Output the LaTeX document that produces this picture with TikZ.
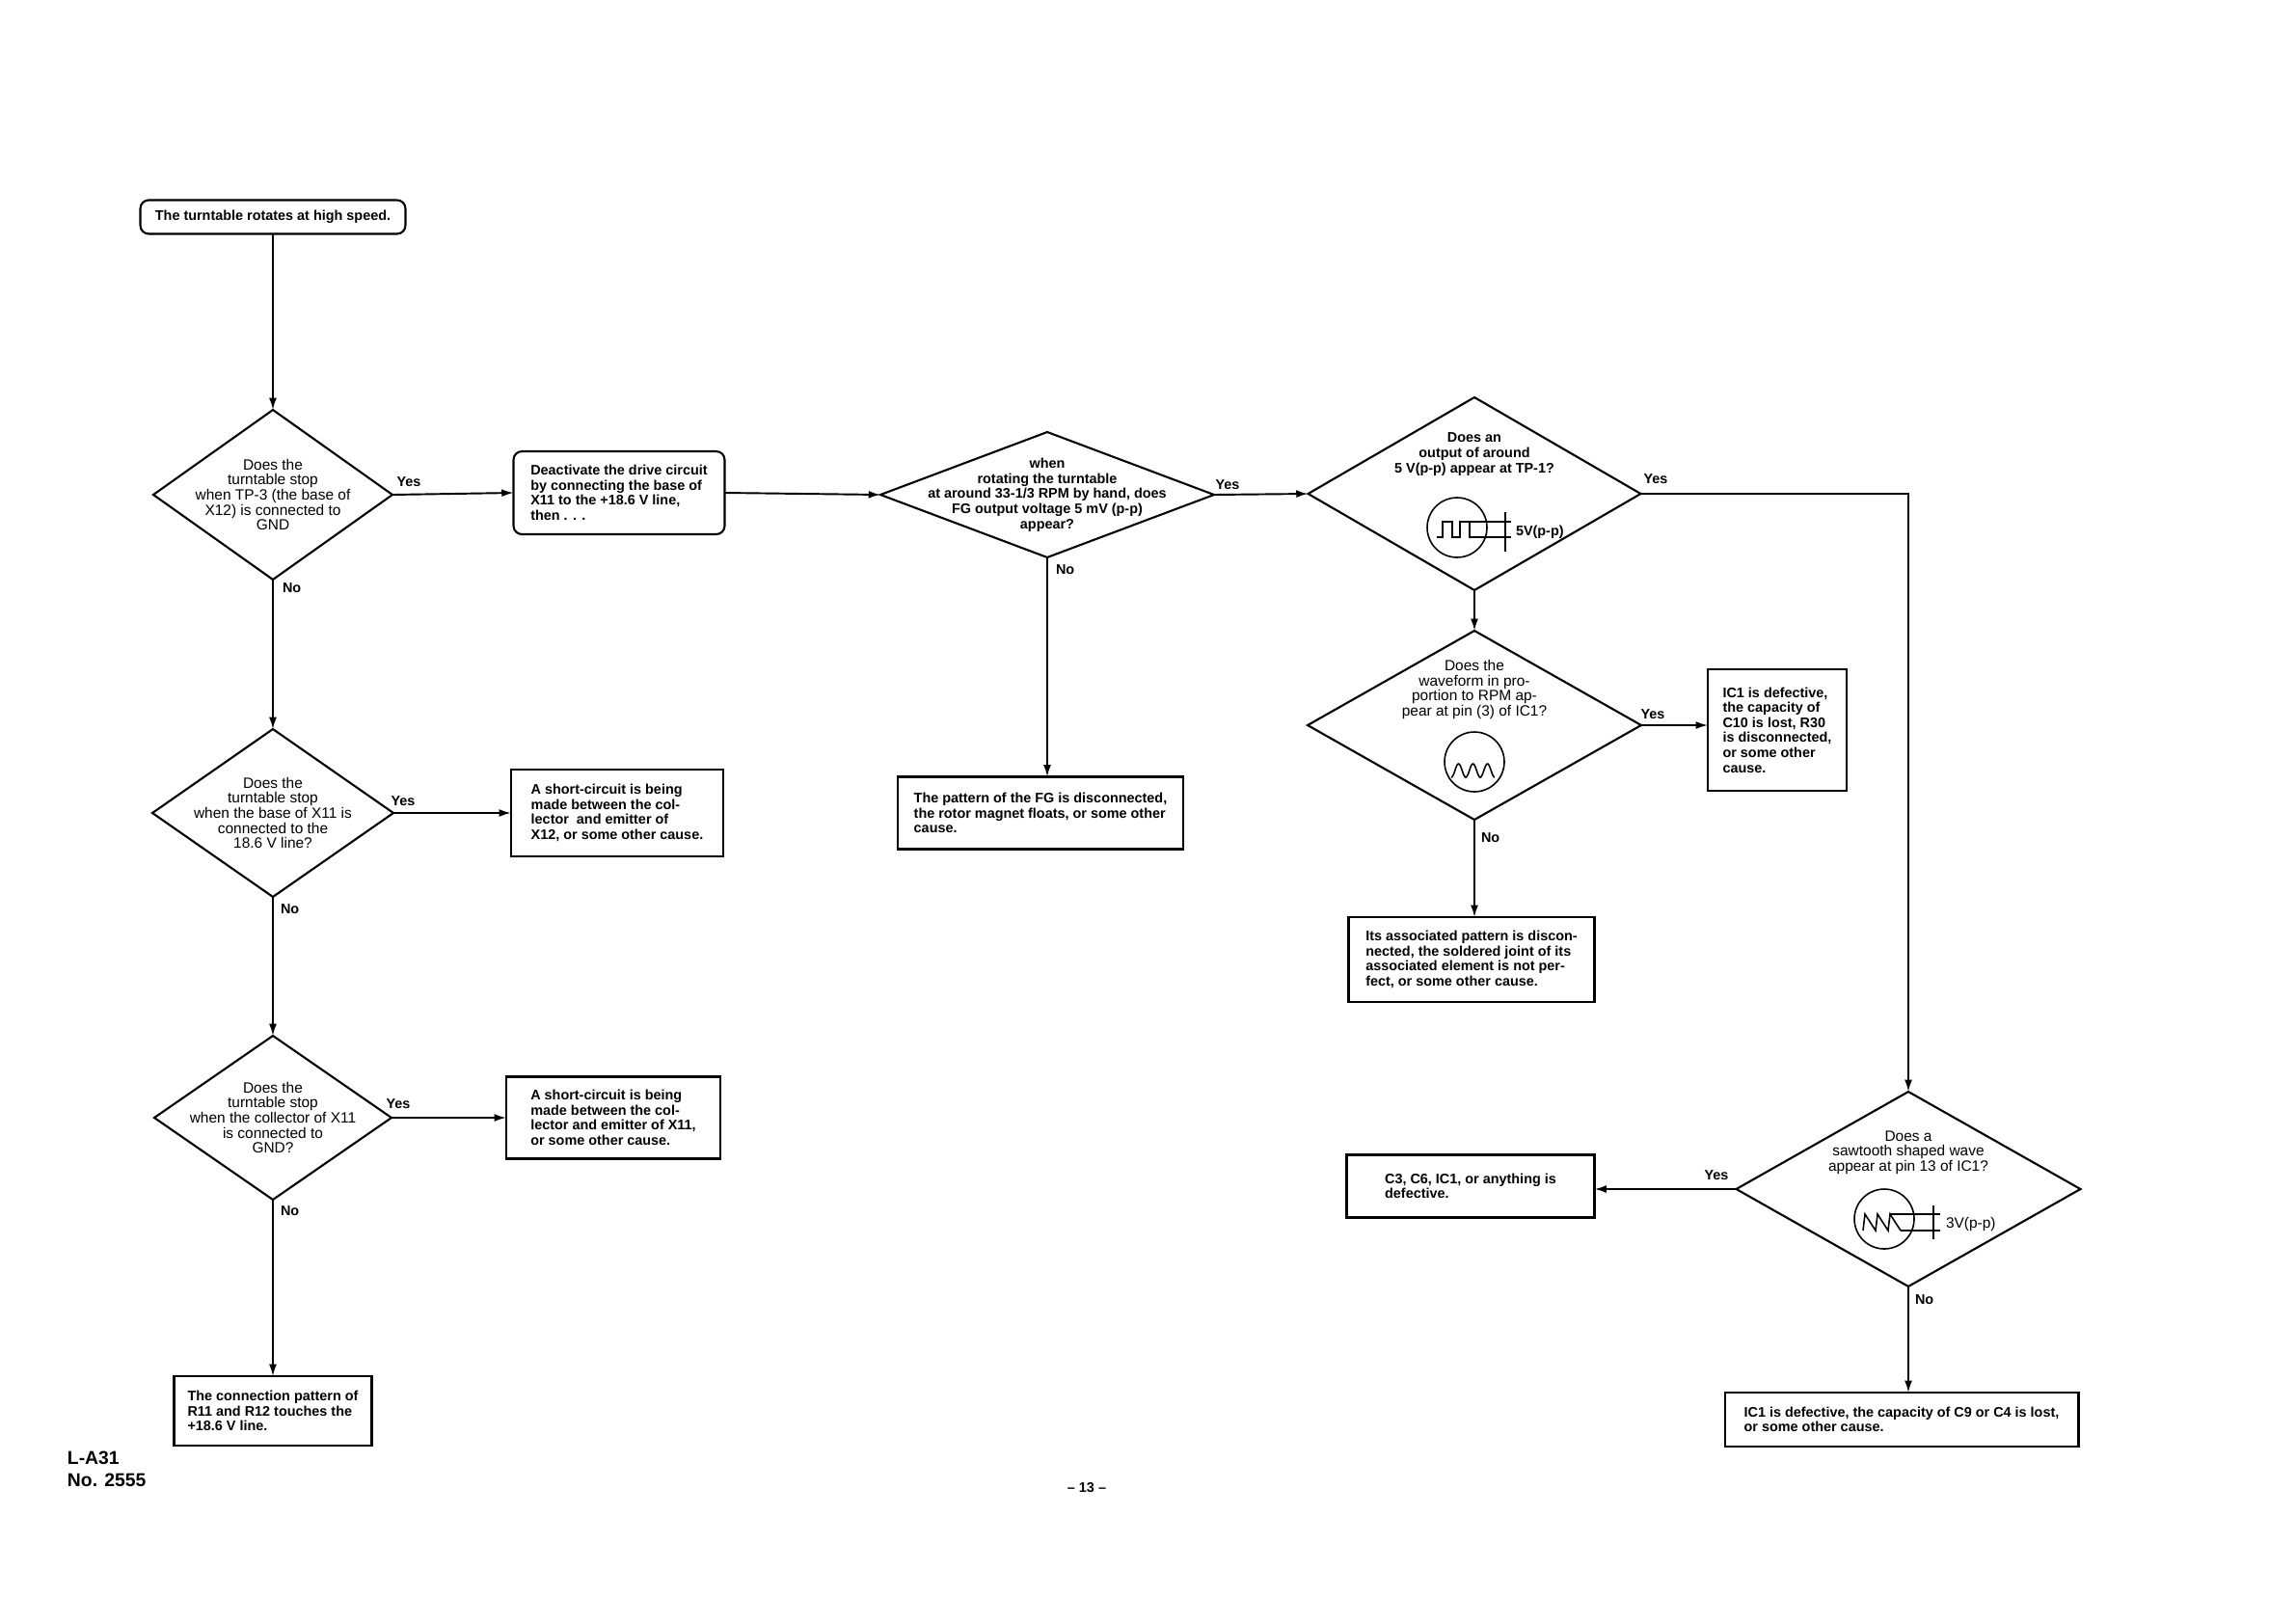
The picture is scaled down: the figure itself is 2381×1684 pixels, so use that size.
\documentclass[tikz,border=0pt]{standalone}
\usepackage{fontspec}
\setmainfont{Liberation Sans}
\usetikzlibrary{shapes.geometric,arrows.meta}

\begin{document}
\begin{tikzpicture}[x=0.02cm,y=-0.02cm,
  every node/.style={inner sep=0pt,outer sep=0pt},
  txt/.style={font=\fontsize{8.2}{8.9}\selectfont\bfseries},
  lite/.style={font=\fontsize{8.8}{8.9}\selectfont},
  box/.style={draw,line width=1.2pt,txt,align=left},
  dec/.style={draw,diamond,line width=1.2pt},
  ask/.style={txt,align=center},
  osc/.style={draw,circle,line width=0.9pt,minimum size=1.24cm},
  go/.style={line width=1.1pt,-{Latex[length=7pt,width=4.5pt]}}]
\useasboundingbox (0,0) rectangle (2381,1684);

% start
\node[box,rounded corners=5pt,align=center,minimum width=5.5cm,minimum height=0.7cm] (hi) at (283,225) {The turntable rotates at high speed.};

% left column: base and collector checks
\node[dec,minimum width=4.96cm,minimum height=3.52cm] (tp3) at (283,513) {};
\node[ask,lite] (tp3t) at (283,513) {Does the\\turntable stop\\when TP-3 (the base of\\X12) is connected to\\GND};
\node[box,rounded corners=5pt,minimum width=4.38cm,minimum height=1.72cm] (drive) at (642,511) {Deactivate the drive circuit\\by connecting the base of\\X11 to the +18.6 V line,\\then . . .};

\node[dec,minimum width=5cm,minimum height=3.48cm] (base11) at (283,843) {};
\node[ask,lite] (base11t) at (283,843) {Does the\\turntable stop\\when the base of X11 is\\connected to the\\18.6 V line?};
\node[box,minimum width=4.4cm,minimum height=1.8cm] (sc12) at (640,843) {A short-circuit is being\\made between the col-\\lector\ \ and emitter of\\X12, or some other cause.};

\node[dec,minimum width=4.92cm,minimum height=3.4cm] (col11) at (283,1159) {};
\node[ask,lite] (col11t) at (283,1159) {Does the\\turntable stop\\when the collector of X11\\is connected to\\GND?};
\node[box,minimum width=4.44cm,minimum height=1.7cm] (sc11) at (636,1159) {A short-circuit is being\\made between the col-\\lector and emitter of X11,\\or some other cause.};

\node[box,minimum width=4.1cm,minimum height=1.44cm] (pat) at (283,1463) {The connection pattern of\\R11 and R12 touches the\\+18.6 V line.};

% middle: FG output
\node[dec,minimum width=6.92cm,minimum height=2.6cm] (fg) at (1086,513) {};
\node[ask] (fgt) at (1086,513) {when\\rotating the turntable\\at around 33-1/3 RPM by hand, does\\FG output voltage 5 mV (p-p)\\appear?};
\node[box,minimum width=5.92cm,minimum height=1.5cm] (fgbox) at (1079,843) {The pattern of the FG is disconnected,\\the rotor magnet floats, or some other\\cause.};

% right: TP-1, pin 3, pin 13
\node[dec,minimum width=6.9cm,minimum height=4cm] (tp1) at (1529,512) {};
\node[ask] (tp1t) at (1529,471) {Does an\\output of around\\5 V(p-p) appear at TP-1?};
\node[osc] (crt1) at (1511,547) {};
\draw[line width=0.9pt] (1490,557) -- (1496,557) -- (1496,541) -- (1506,541) -- (1506,557) -- (1514,557) -- (1514,541) -- (1524,541) -- (1524,557) -- (1532,557);
\draw[line width=0.9pt] (1524,541) -- (1567,541) (1532,557) -- (1567,557) (1561,531) -- (1561,572);
\node[txt,anchor=west] (vpp1) at (1572,552) {5V(p-p)};

\node[dec,minimum width=6.92cm,minimum height=3.92cm] (pin3) at (1529,752) {};
\node[ask,lite] (pin3t) at (1529,715) {Does the\\waveform in pro-\\portion to RPM ap-\\pear at pin (3) of IC1?};
\node[osc] (crt2) at (1529,790) {};
\draw[line width=0.9pt] plot[domain=0:3,samples=73,smooth] ({1505+15*\x},{799+7*cos(360*\x)});
\node[box,minimum width=2.88cm,minimum height=2.52cm] (c10) at (1843,757) {IC1 is defective,\\the capacity of\\C10 is lost, R30\\is disconnected,\\or some other\\cause.};
\node[box,minimum width=5.1cm,minimum height=1.76cm] (assoc) at (1526,995) {Its associated pattern is discon-\\nected, the soldered joint of its\\associated element is not per-\\fect, or some other cause.};

\node[dec,minimum width=7.14cm,minimum height=4.04cm] (saw) at (1979,1233) {};
\node[ask,lite] (sawt) at (1979,1195) {Does a\\sawtooth shaped wave\\appear at pin 13 of IC1?};
\node[osc] (crt3) at (1954,1264) {};
\draw[line width=0.9pt] (1932,1276) -- (1934,1259) -- (1945,1276) -- (1947,1259) -- (1958,1276) -- (1960,1259) -- (1971,1276);
\draw[line width=0.9pt] (1960,1259) -- (2012,1259) (1971,1276) -- (2012,1276) (2005,1250) -- (2005,1285);
\node[lite,anchor=west] (vpp2) at (2018,1269) {3V(p-p)};
\node[box,minimum width=5.14cm,minimum height=1.3cm] (c3) at (1525,1230) {C3, C6, IC1, or anything is\\defective.};
\node[box,minimum width=7.34cm,minimum height=1.12cm] (c9) at (1972,1472) {IC1 is defective, the capacity of C9 or C4 is lost,\\or some other cause.};

% answers
\node[txt] (y1) at (424,500) {Yes};
\node[txt,anchor=west] (n1) at (293,610) {No};
\node[txt] (y2) at (418,831) {Yes};
\node[txt,anchor=west] (n2) at (291,943) {No};
\node[txt] (y3) at (413,1145) {Yes};
\node[txt,anchor=west] (n3) at (291,1256) {No};
\node[txt] (y4) at (1273,503) {Yes};
\node[txt,anchor=west] (n4) at (1095,591) {No};
\node[txt] (y5) at (1717,497) {Yes};
\node[txt] (y6) at (1714,741) {Yes};
\node[txt,anchor=west] (n6) at (1536,869) {No};
\node[txt] (y7) at (1780,1219) {Yes};
\node[txt,anchor=west] (n7) at (1986,1348) {No};

% flow
\draw[go] (hi) -- (tp3);
\draw[go] (tp3.east) -- (drive.west);
\draw[go] (drive.east) -- (fg.west);
\draw[go] (fg.east) -- (tp1.west);
\draw[go] (fg.south) -- (fg.south |- fgbox.north);
\draw[go] (tp1.south) -- (pin3.north);
\draw[go] (tp1.east) -| (saw.north);
\draw[go] (pin3.east) -- (pin3.east -| c10.west);
\draw[go] (pin3.south) -- (pin3.south |- assoc.north);
\draw[go] (saw.west) -- (saw.west -| c3.east);
\draw[go] (saw.south) -- (saw.south |- c9.north);
\draw[go] (tp3.south) -- (base11.north);
\draw[go] (base11.east) -- (sc12.west);
\draw[go] (base11.south) -- (col11.north);
\draw[go] (col11.east) -- (sc11.west);
\draw[go] (col11.south) -- (pat.north);

% page marks
\node[font=\fontsize{11}{13}\selectfont\bfseries,align=left,anchor=north west] (doc) at (70,1505) {L-A31\\No. 2555};
\node[txt] (page) at (1127,1543) {-- 13 --};
\end{tikzpicture}
\end{document}
